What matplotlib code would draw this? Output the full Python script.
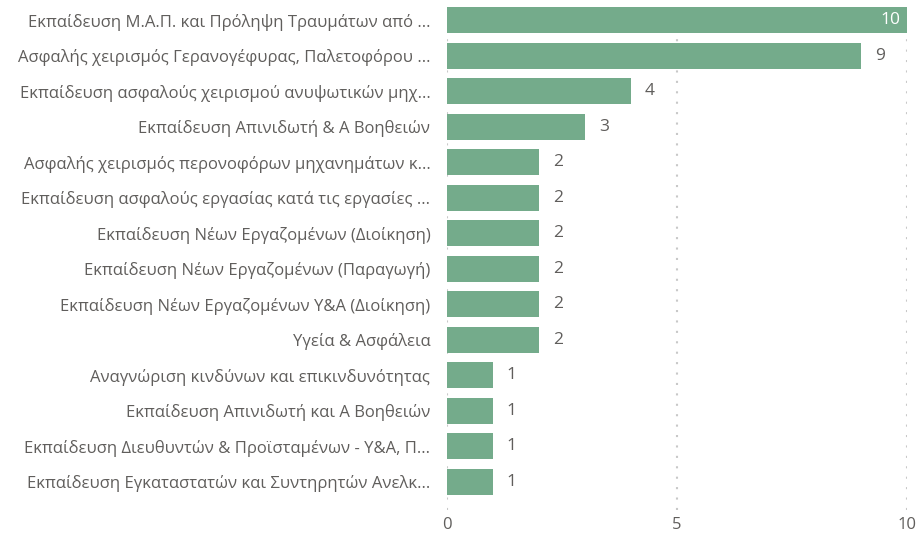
import matplotlib.pyplot as plt

categories = [
    "Εκπαίδευση Μ.Α.Π. και Πρόληψη Τραυμάτων από ...",
    "Ασφαλής χειρισμός Γερανογέφυρας, Παλετοφόρου ...",
    "Εκπαίδευση ασφαλούς χειρισμού ανυψωτικών μηχ...",
    "Εκπαίδευση Απινιδωτή & Α Βοηθειών",
    "Ασφαλής χειρισμός περονοφόρων μηχανημάτων κ...",
    "Εκπαίδευση ασφαλούς εργασίας κατά τις εργασίες ...",
    "Εκπαίδευση Νέων Εργαζομένων (Διοίκηση)",
    "Εκπαίδευση Νέων Εργαζομένων (Παραγωγή)",
    "Εκπαίδευση Νέων Εργαζομένων Υ&Α (Διοίκηση)",
    "Υγεία & Ασφάλεια",
    "Αναγνώριση κινδύνων και επικινδυνότητας",
    "Εκπαίδευση Απινιδωτή και Α Βοηθειών",
    "Εκπαίδευση Διευθυντών & Προϊσταμένων - Υ&Α, Π...",
    "Εκπαίδευση Εγκαταστατών και Συντηρητών Ανελκ...",
]
values = [10, 9, 4, 3, 2, 2, 2, 2, 2, 2, 1, 1, 1, 1]
x_ticks = [0, 5, 10]

bar_color = "#74AB8B"
text_color = "#605E5C"

plt.rcParams['font.family'] = ['Open Sans', 'DejaVu Sans']

fig = plt.figure(figsize=(9.17, 5.37), dpi=100)
ax = fig.add_axes([447 / 917, 1 - 510 / 537, 460 / 917, 507 / 537])

pos = list(range(len(categories)))
ax.barh(pos, values, height=0.73, color=bar_color, zorder=2)

for y, v in zip(pos, values):
    if v >= 10:
        ax.text(v - 0.15, y, str(v), ha='right', va='center',
                color='white', fontsize=12.5)
    else:
        ax.text(v + 0.3, y, str(v), ha='left', va='center',
                color=text_color, fontsize=12.5)

ax.set_xlim(0, 10)
ax.set_ylim(13.79, -0.48)
ax.set_yticks(pos)
ax.set_yticklabels(categories, fontsize=12, color=text_color)
ax.set_xticks(x_ticks)
ax.set_xticklabels([str(t) for t in x_ticks], fontsize=12, color=text_color)

ax.tick_params(axis='y', length=0, pad=12)
ax.tick_params(axis='x', length=0, pad=5)

for s in ax.spines.values():
    s.set_visible(False)

ax.grid(axis='x', color='#C8C8C8', linestyle=(0, (1, 4)), linewidth=1.5, zorder=0)
ax.set_axisbelow(True)

fig.savefig("out.png", dpi=100)
